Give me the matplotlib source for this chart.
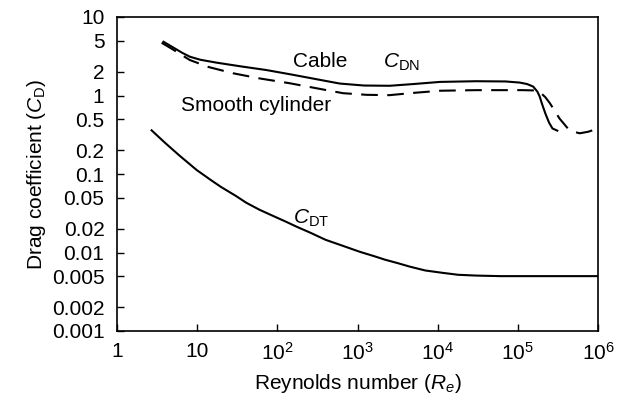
import numpy as np
import matplotlib
matplotlib.use('Agg')
import matplotlib.pyplot as plt

plt.rcParams['font.family'] = ['Liberation Sans', 'DejaVu Sans']
plt.rcParams['mathtext.fontset'] = 'custom'
plt.rcParams['mathtext.rm'] = 'Liberation Sans'
plt.rcParams['mathtext.it'] = 'Liberation Sans:italic'

# Cable, normal drag coefficient C_DN (solid)
cable_re = [3.8, 5.0, 6.5, 8.1, 11, 17.5, 35, 73, 150, 310, 600, 1200, 2520, 5000,
            10700, 30000, 70000, 106000, 130000, 155000, 175000, 187000,
            200000, 220000, 245000, 270000, 310000]
cable_cd = [4.84, 4.1, 3.5, 3.12, 2.85, 2.62, 2.35, 2.11, 1.85, 1.61, 1.42, 1.34, 1.33, 1.40,
            1.49, 1.52, 1.51, 1.46, 1.40, 1.30, 1.12, 0.97,
            0.78, 0.59, 0.45, 0.38, 0.357]

# Smooth cylinder C_DN (dashed)
cyl_re = [3.6, 5.0, 6.5, 8.1, 14, 28, 60, 144, 330, 660, 1300, 2500, 5000, 10700,
          30000, 114000, 160000, 187000, 220000, 250000, 290000, 330000,
          420000, 500000, 590000, 750000, 1000000]
cyl_cd = [4.7, 3.85, 3.25, 2.83, 2.3, 1.92, 1.65, 1.43, 1.22, 1.07, 1.02, 1.01, 1.08, 1.15,
          1.17, 1.17, 1.16, 1.11, 0.95, 0.80, 0.63, 0.51,
          0.38, 0.345, 0.33, 0.345, 0.38]

# Tangential drag coefficient C_DT (solid)
tan_re = [2.7, 4, 6, 9.9, 15, 20, 30, 41, 60, 90, 130, 174, 260, 400, 650, 1070,
          1600, 2200, 3200, 4500, 7000, 11600, 18000, 30500, 60000, 100000, 1000000]
tan_cd = [0.36, 0.248, 0.172, 0.112, 0.083, 0.068, 0.053, 0.043, 0.035, 0.029, 0.0245,
          0.0213, 0.0178, 0.0145, 0.0122, 0.0102, 0.0090, 0.0081, 0.0073, 0.0066,
          0.0059, 0.0055, 0.0052, 0.00508, 0.0050, 0.0050, 0.0050]

xticks = [1, 10, 1e2, 1e3, 1e4, 1e5, 1e6]
xlabels = ['1', '10', r'$10^2$', r'$10^3$', r'$10^4$', r'$10^5$', r'$10^6$']
yticks = [10, 5, 2, 1, 0.5, 0.2, 0.1, 0.05, 0.02, 0.01, 0.005, 0.002, 0.001]
ylabels = ['10', '5', '2', '1', '0.5', '0.2', '0.1', '0.05', '0.02', '0.01',
           '0.005', '0.002', '0.001']

fs = 15

fig = plt.figure(figsize=(6.23, 4.0), dpi=100)
ax = fig.add_axes([0.1878, 0.1725, 0.7722, 0.785])

ax.plot(cable_re, cable_cd, color='black', lw=1.5)
ax.plot(cyl_re, cyl_cd, color='black', lw=1.5, dashes=(8, 4.5))
ax.plot(tan_re, tan_cd, color='black', lw=1.5)

ax.set_xscale('log')
ax.set_yscale('log')
ax.set_xlim(1, 1e6)
ax.set_ylim(0.001, 10)
ax.set_xticks(xticks)
ax.set_xticklabels(xlabels)
ax.set_yticks(yticks)
ax.set_yticklabels(ylabels)
ax.minorticks_off()
ax.tick_params(direction='in', length=5, width=1, labelsize=fs)
ax.tick_params(axis='y', pad=9)
ax.tick_params(axis='x', pad=8)
for s in ax.spines.values():
    s.set_linewidth(1.2)

ax.text(157, 2.3, 'Cable', ha='left', va='baseline', fontsize=fs)
ax.text(2070, 2.25, r'$C_{\mathrm{DN}}$', ha='left', va='baseline', fontsize=fs)
ax.text(6.3, 0.635, 'Smooth cylinder', ha='left', va='baseline', fontsize=fs)
ax.text(157, 0.023, r'$C_{\mathrm{DT}}$', ha='left', va='baseline', fontsize=fs)

ax.set_xlabel(r'Reynolds number ($R_e$)', fontsize=fs, labelpad=6)
ax.set_ylabel(r'Drag coefficient ($C_{\mathrm{D}}$)', fontsize=fs, labelpad=3)

fig.savefig('out.png', dpi=100)
